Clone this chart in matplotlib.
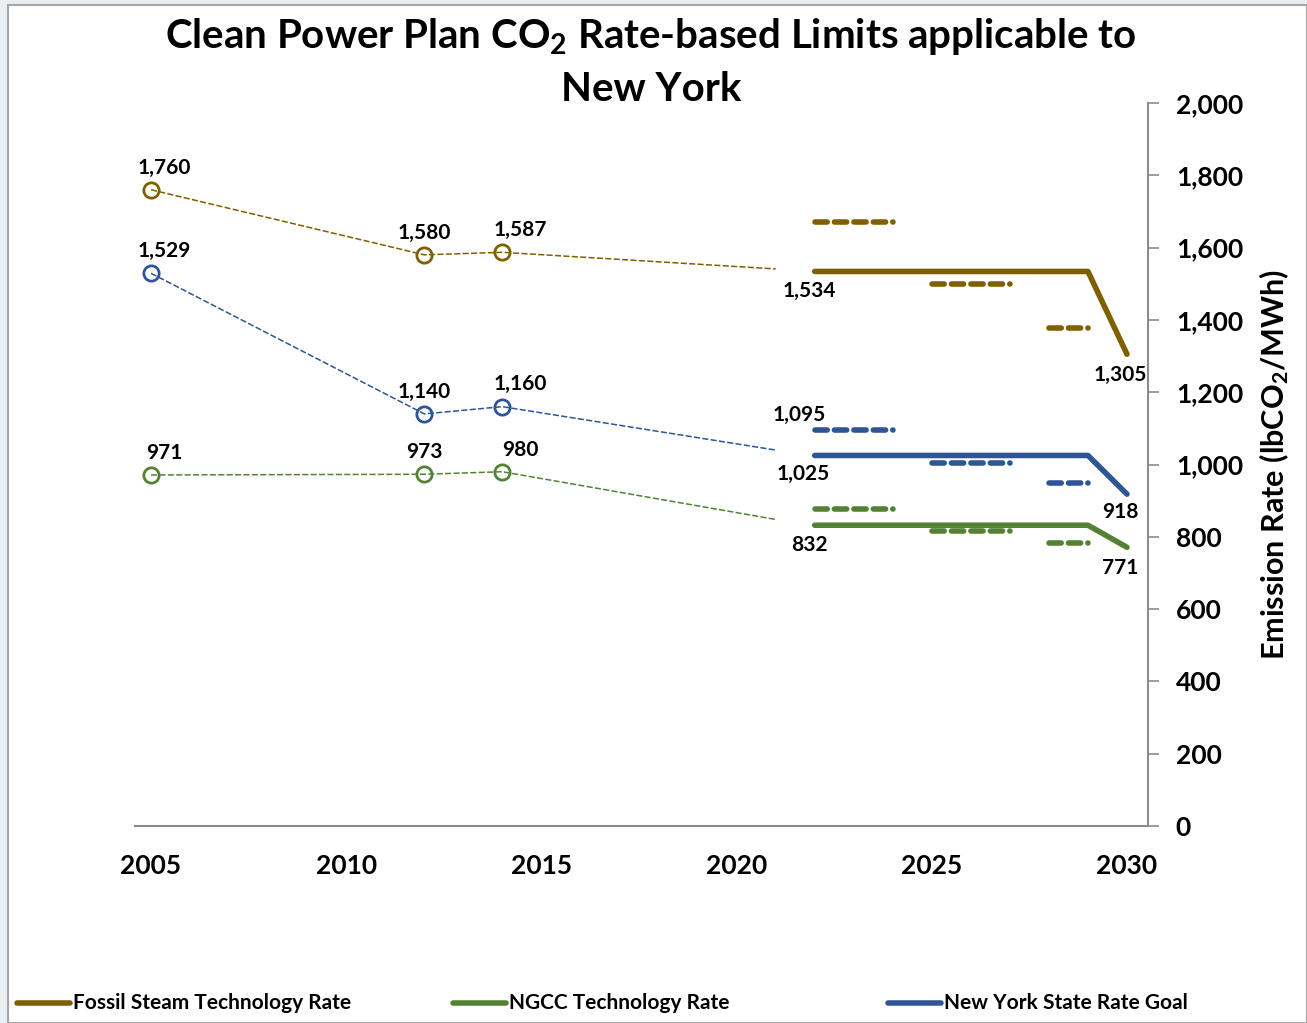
import matplotlib.pyplot as plt
from matplotlib.lines import Line2D
from matplotlib.patches import Rectangle
from matplotlib.ticker import FuncFormatter

plt.rcParams['font.family'] = ['Lato', 'DejaVu Sans']
plt.rcParams['font.weight'] = 'bold'
plt.rcParams['mathtext.fontset'] = 'custom'
plt.rcParams['mathtext.rm'] = 'Lato:bold'
plt.rcParams['mathtext.bf'] = 'Lato:bold'
plt.rcParams['mathtext.default'] = 'bf'

# datos historicos (lineas finas con circulos)
hist_years = [2005, 2012, 2014, 2021]
steam_hist = [1760, 1580, 1587, 1541]
ngcc_hist = [971, 973, 980, 848]
ny_hist = [1529, 1140, 1160, 1040]

# metas (linea gruesa)
goal_years = [2022, 2029, 2030]
steam_goal = [1534, 1534, 1305]
ngcc_goal = [832, 832, 771]
ny_goal = [1025, 1025, 918]

# pasos intermedios (lineas discontinuas)
step_start = [2022, 2025, 2028]
step_end = [2024, 2027, 2029]
steam_steps = [1671, 1500, 1377]
ngcc_steps = [877, 817, 783]
ny_steps = [1095, 1003, 948]

c_steam = '#7F6000'
c_ngcc = '#548235'
c_ny = '#2F5597'

W, H = 1307, 1023
fig = plt.figure(figsize=(W / 100, H / 100), dpi=100)
fig.patch.set_facecolor('#e9eff1')
fig.add_artist(Rectangle((8 / W, 0), 1 - 8 / W, 1 - 5 / H, transform=fig.transFigure,
                         facecolor='white', edgecolor='#a6a6a6', linewidth=1.5,
                         zorder=-5))

ax = fig.add_axes([135 / W, 1 - 826 / H, (1148 - 135) / W, (826 - 103) / H])
ax.set_facecolor('none')

series = [
    (steam_hist, steam_goal, steam_steps, c_steam),
    (ny_hist, ny_goal, ny_steps, c_ny),
    (ngcc_hist, ngcc_goal, ngcc_steps, c_ngcc),
]
for hist, goal, steps, col in series:
    ax.plot(hist_years, hist, color=col, lw=1.1, ls=(0, (4, 1.5)),
            marker='o', markevery=[0, 1, 2], ms=11, mfc='none', mew=2)
    ax.plot(goal_years, goal, color=col, lw=4, solid_capstyle='round',
            solid_joinstyle='round')
    for x0, x1, v in zip(step_start, step_end, steps):
        ax.plot([x0, x1], [v, v], color=col, lw=4, ls=(0, (2.2, 1.3)),
                dash_capstyle='round')

lab = dict(fontsize=15, fontweight='bold', ha='center', va='center')
fmt = lambda v: f'{v:,}'
# etiquetas de los puntos historicos
for hist in [steam_hist, ny_hist, ngcc_hist]:
    dx = [0.35, 0, 0.45]
    for i in range(3):
        ax.annotate(fmt(hist[i]), (hist_years[i], hist[i]), xytext=(dx[i] * 28, 16),
                    textcoords='offset points', **lab)
# etiquetas de las metas
for goal in [steam_goal, ngcc_goal]:
    ax.annotate(fmt(goal[0]), (goal_years[0], goal[0]), xytext=(-4, -14),
                textcoords='offset points', **lab)
    ax.annotate(fmt(goal[-1]), (goal_years[-1], goal[-1]), xytext=(-5, -15),
                textcoords='offset points', **lab)
ax.annotate(fmt(ny_goal[0]), (goal_years[0], ny_goal[0]), xytext=(-8, -13),
            textcoords='offset points', **lab)
ax.annotate(fmt(ny_goal[-1]), (goal_years[-1], ny_goal[-1]), xytext=(-5, -13),
            textcoords='offset points', **lab)
ax.annotate(fmt(ny_steps[0]), (step_start[0], ny_steps[0]), xytext=(-11, 11),
            textcoords='offset points', **lab)

ax.set_xlim(2005 - 16 / 39.04, 2005 + 997 / 39.04)
ax.set_ylim(0, 2000)
ax.set_xticks([2005, 2010, 2015, 2020, 2025, 2030])
ax.set_yticks(range(0, 2001, 200))
ax.yaxis.set_major_formatter(FuncFormatter(lambda v, p: f'{int(v):,}'))
ax.yaxis.tick_right()
ax.yaxis.set_label_position('right')
ax.tick_params(axis='x', length=0, pad=20, labelsize=19)
ax.tick_params(axis='y', length=8, width=1.2, color='#8c8c8c', pad=12, labelsize=19)
for lbl in ax.get_xticklabels() + ax.get_yticklabels():
    lbl.set_fontweight('bold')
for s in ['top', 'left']:
    ax.spines[s].set_visible(False)
for s in ['right', 'bottom']:
    ax.spines[s].set_color('#8c8c8c')
    ax.spines[s].set_linewidth(1.5)
ax.set_ylabel(r'Emission Rate (lbCO$_2$/MWh)', fontsize=22, fontweight='bold', labelpad=10)

fig.text(651 / W, 1 - 62 / H,
         'Clean Power Plan CO$_2$ Rate-based Limits applicable to\nNew York',
         ha='center', va='center', fontsize=29, fontweight='bold', linespacing=1.45)

# leyenda
legend_items = [('Fossil Steam Technology Rate', c_steam, 17),
                ('NGCC Technology Rate', c_ngcc, 453),
                ('New York State Rate Goal', c_ny, 888)]
ly = 1 - 1003 / H
for name, col, x0 in legend_items:
    fig.add_artist(Line2D([x0 / W, (x0 + 53) / W], [ly, ly], color=col, lw=4,
                          solid_capstyle='round', transform=fig.transFigure))
    fig.text((x0 + 56) / W, ly, name, ha='left', va='center', fontsize=15,
             fontweight='bold')

fig.savefig('out.png', dpi=100)
